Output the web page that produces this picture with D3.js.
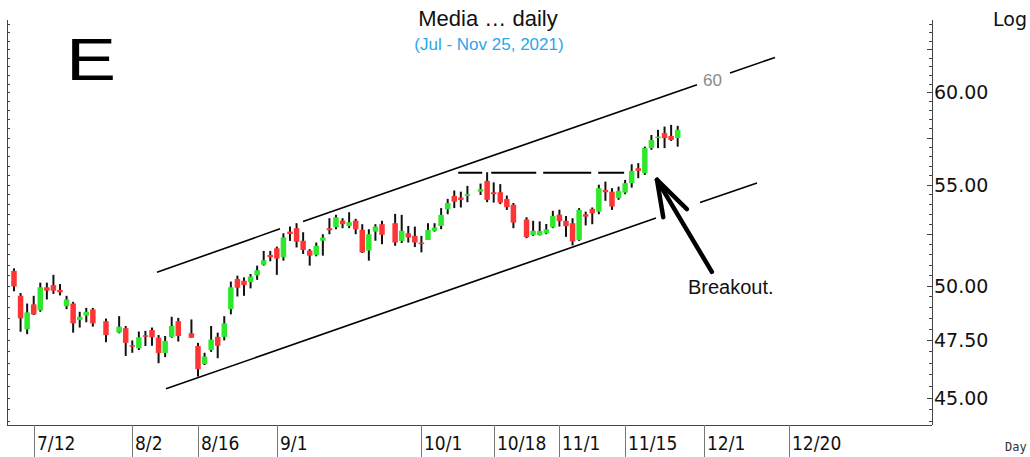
<!DOCTYPE html>
<html><head><meta charset="utf-8">
<script src="https://cdn.jsdelivr.net/npm/d3@7"></script>
<style>html,body{margin:0;padding:0;background:#fff;}svg{display:block;}</style>
</head><body>
<script>
// ---- data (one entry per chart slot; null = empty slot) ----
const opens = [50.71,49.53,47.99,49.13,48.86,49.93,50.03,49.81,49.05,49.17,48.41,48.61,48.90,null,48.36,null,47.84,48.04,47.28,47.14,47.72,47.96,47.61,46.93,47.65,48.36,null,47.81,47.24,46.45,47.06,47.65,47.65,48.91,50.32,50.24,50.17,50.49,51.00,51.48,51.80,51.37,52.62,52.79,52.17,51.69,51.48,52.17,52.79,52.84,53.17,52.90,53.17,52.71,51.69,52.62,52.99,null,53.04,52.16,52.54,52.41,52.08,52.21,52.66,52.90,53.74,54.42,54.34,54.42,null,54.64,55.20,54.61,54.61,54.26,53.97,null,53.22,52.46,52.45,52.54,52.83,53.47,53.16,53.04,52.21,53.49,53.76,53.62,54.73,54.64,54.31,54.59,55.08,55.86,55.60,56.93,57.47,57.74,57.59,57.47];
const highs = [50.83,49.66,49.17,49.53,50.15,50.15,50.52,50.08,49.53,49.25,48.79,48.97,48.97,null,48.48,null,48.59,48.14,47.49,47.89,47.92,48.07,47.73,47.69,48.56,48.51,null,48.44,47.38,46.94,48.14,47.84,48.59,50.20,50.48,50.40,50.56,50.96,51.67,51.67,51.88,52.54,52.87,53.04,52.59,51.76,52.08,52.49,53.29,53.46,53.29,53.59,53.26,52.99,52.74,52.99,53.16,null,53.51,53.46,52.90,52.87,52.41,53.04,53.04,53.80,54.27,54.70,54.64,54.94,null,55.06,55.65,55.12,55.03,54.44,54.06,null,53.34,53.16,53.13,53.00,53.66,53.72,53.40,53.29,53.80,53.62,53.83,55.00,55.16,54.82,54.90,55.25,56.07,56.13,57.01,57.64,57.92,58.10,58.19,58.14];
const lows = [49.74,47.88,47.77,48.64,48.79,49.36,49.62,49.55,48.91,47.84,48.07,48.31,48.11,null,47.41,null,47.81,46.80,46.94,47.06,47.24,47.25,46.48,46.75,47.61,47.44,null,47.61,45.90,46.40,46.98,46.70,47.49,48.67,49.50,49.53,49.88,50.28,50.96,51.17,50.52,51.20,52.16,51.84,51.52,50.96,51.41,51.44,52.49,52.74,52.79,52.79,52.49,51.57,51.20,52.17,52.00,null,51.92,52.06,52.08,51.86,51.60,52.21,52.62,52.74,53.49,53.80,53.83,54.10,null,54.47,54.10,54.08,54.00,53.71,52.79,null,52.30,52.41,52.43,52.49,52.79,52.87,52.36,51.94,52.16,52.93,52.99,53.49,54.17,53.71,54.22,54.51,54.85,55.34,55.51,56.84,56.93,56.93,57.32,57.01];
const closes = [49.97,48.49,48.76,48.67,49.93,49.77,49.77,49.69,49.36,48.26,48.56,48.79,48.26,null,47.73,null,48.11,47.38,47.21,47.63,47.68,47.63,46.93,47.47,48.14,47.69,null,47.61,46.22,46.77,47.53,47.25,48.26,49.93,49.91,50.03,50.44,50.74,51.22,51.37,51.30,52.33,52.50,52.12,51.72,51.44,51.92,52.33,52.69,53.34,52.99,53.09,52.74,51.60,52.49,52.87,52.46,null,52.08,52.66,52.33,52.08,52.01,52.71,52.82,53.46,54.06,54.13,54.22,54.51,null,54.77,54.22,54.51,54.08,53.85,53.07,null,52.35,52.66,52.65,52.73,53.40,53.14,52.89,52.14,53.71,53.37,53.54,54.82,54.61,53.88,54.68,55.08,55.72,55.72,56.93,57.37,57.55,57.47,57.37,57.92];

const tickSlots  = [3, 18, 28, 40, 62, 73, 83, 93, 105, 118];
const tickLabels = ["7/12","8/2","8/16","9/1","10/1","10/18","11/1","11/15","12/1","12/20"];
const priceLabels = [45, 47.5, 50, 55, 60];

// trendline segments [slot, price] -> [slot, price]
const upperChannel = [[[21.76,50.64],[40.48,52.76]], [[43.98,53.13],[103.94,60.43]], [[108.96,61.11],[115.81,62.01]]];
const lowerChannel = [[[23.13,45.37],[97.70,53.30]], [[104.40,54.08],[113.07,55.09]]];
const resistance = [[67.6,55.63],[92.85,55.63]];
const arrowShaft = [[106.2,50.66],[97.85,55.25]];
const arrowHeads = [[[97.85,55.25],[98.8,53.34]], [[97.85,55.25],[102.4,53.75]]];
const channelLabel = {slot:104.85, price:60.37, text:"60"};
const noteLabel = {slot:102.57, price:49.63, text:"Breakout."};

// ---- chart ----
const W = 1030, H = 457;
const svg = d3.select("body").append("svg").attr("width", W).attr("height", H);
const x = d3.scaleLinear().domain([-1.065, 139.7]).range([7, 932]);
const y = d3.scaleLog().domain([43.85, 64.24]).range([425, 20]);
const pL = 7, pR = 932, pT = 20, pB = 425;

// frame
svg.append("line").attr("x1", pL + 0.5).attr("x2", pL + 0.5).attr("y1", pT).attr("y2", pB).attr("stroke", "#444");
svg.append("line").attr("x1", pR + 0.5).attr("x2", pR + 0.5).attr("y1", pT).attr("y2", pB).attr("stroke", "#444");
svg.append("line").attr("x1", pL).attr("x2", pR).attr("y1", pB + 0.5).attr("y2", pB + 0.5).attr("stroke", "#444");

// y ticks (every 0.5)
const minor = d3.range(44, 64.01, 0.5).filter(v => y(v) > pT && y(v) < pB);
const isMajor = v => Math.abs(v / 2.5 - Math.round(v / 2.5)) < 1e-6;
svg.append("g").selectAll("line").data(minor).join("line")
  .attr("x1", pR).attr("x2", v => pR - (isMajor(v) ? 5 : 3))
  .attr("y1", v => Math.round(y(v)) + 0.5).attr("y2", v => Math.round(y(v)) + 0.5).attr("stroke", "#444");
svg.append("g").selectAll("line").data(minor).join("line")
  .attr("x1", pL).attr("x2", pL + 3)
  .attr("y1", v => Math.round(y(v)) + 0.5).attr("y2", v => Math.round(y(v)) + 0.5).attr("stroke", "#444");
svg.append("g").selectAll("text").data(priceLabels).join("text")
  .attr("x", 934).attr("y", v => y(v) + 7)
  .attr("font-family", "DejaVu Sans").attr("font-size", 19).attr("fill", "#111")
  .text(d3.format(".2f"));
svg.append("text").attr("x", 993).attr("y", 26).attr("font-family", "DejaVu Sans").attr("font-size", 19).attr("fill", "#111").text("Log");

// x ticks
const xt = svg.append("g");
xt.selectAll("line").data(tickSlots).join("line")
  .attr("x1", s => Math.round(x(s)) + 0.5).attr("x2", s => Math.round(x(s)) + 0.5)
  .attr("y1", pB).attr("y2", H).attr("stroke", "#777");
xt.selectAll("text").data(tickSlots).join("text")
  .attr("x", s => Math.round(x(s)) + 3).attr("y", 450)
  .attr("font-family", "DejaVu Sans Condensed, DejaVu Sans").attr("font-stretch", "condensed").attr("font-size", 19).attr("fill", "#111")
  .text((s, i) => tickLabels[i]);
svg.append("text").attr("x", 1005).attr("y", 451).attr("font-family", "DejaVu Sans Mono").attr("font-size", 12).attr("fill", "#333").text("Day");

// titles
svg.append("text").attr("x", 488).attr("y", 26).attr("text-anchor", "middle").attr("font-family", "Liberation Sans, Arial").attr("font-size", 22).attr("fill", "#111").text("Media \u2026 daily");
svg.append("text").attr("x", 489).attr("y", 50).attr("text-anchor", "middle").attr("font-family", "Liberation Sans, Arial").attr("font-size", 17).attr("fill", "#2aa6ea").text("(Jul - Nov 25, 2021)");
svg.append("text").attr("transform", "translate(66,80) scale(1.25,1)").attr("font-family", "Liberation Sans, Arial").attr("font-size", 60).attr("fill", "#000").text("E");

// trend lines
const seg = (g, segs, w) => g.selectAll(null).data(segs).enter().append("line")
  .attr("x1", d => x(d[0][0])).attr("y1", d => y(d[0][1])).attr("x2", d => x(d[1][0])).attr("y2", d => y(d[1][1]))
  .attr("stroke", "#000").attr("stroke-width", w);
const tl = svg.append("g");
seg(tl, upperChannel, 1.6);
seg(tl, lowerChannel, 1.6);
tl.append("line").attr("x1", x(resistance[0][0])).attr("y1", y(resistance[0][1])).attr("x2", x(resistance[1][0])).attr("y2", y(resistance[1][1]))
  .attr("stroke", "#000").attr("stroke-width", 2).attr("stroke-dasharray", "24,9,45,7,48,7,26,200");
svg.append("text").attr("x", x(channelLabel.slot)).attr("y", y(channelLabel.price)).attr("font-family", "Liberation Sans, Arial").attr("font-size", 17).attr("fill", "#8a8a8a").text(channelLabel.text);

// candles
const idx = d3.range(opens.length).filter(i => opens[i] != null);
const cg = svg.append("g");
cg.selectAll("line").data(idx).join("line")
  .attr("x1", i => x(i)).attr("x2", i => x(i)).attr("y1", i => y(highs[i])).attr("y2", i => y(lows[i]))
  .attr("stroke", "#111").attr("stroke-width", 2);
cg.selectAll("rect").data(idx).join("rect")
  .attr("x", i => x(i) - 2.75).attr("width", 5.5)
  .attr("y", i => Math.min(y(opens[i]), y(closes[i])))
  .attr("height", i => Math.max(1.5, Math.abs(y(opens[i]) - y(closes[i]))))
  .attr("fill", i => closes[i] >= opens[i] ? "#2ee82e" : "#ff3535");

// arrow + note
const ag = svg.append("g").attr("stroke", "#000").attr("stroke-width", 4.5).attr("stroke-linecap", "round");
ag.append("line").attr("x1", x(arrowShaft[0][0])).attr("y1", y(arrowShaft[0][1])).attr("x2", x(arrowShaft[1][0])).attr("y2", y(arrowShaft[1][1]));
seg(ag, arrowHeads, 4.5);
svg.append("text").attr("x", x(noteLabel.slot)).attr("y", y(noteLabel.price)).attr("font-family", "Liberation Sans, Arial").attr("font-size", 20).attr("fill", "#111").text(noteLabel.text);
</script>
</body></html>
